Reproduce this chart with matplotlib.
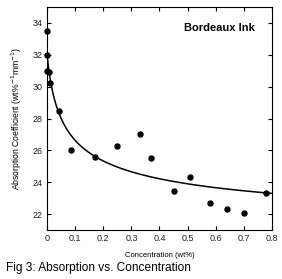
import numpy as np
from matplotlib import pyplot as plt

# measured points (wt%, absorption coefficient)
conc = [0.0, 0.0, 0.0, 0.007, 0.01, 0.043, 0.085, 0.17, 0.25, 0.33, 0.37,
        0.45, 0.51, 0.58, 0.64, 0.70, 0.78]
absorb = [33.47, 32.0, 31.0, 30.9, 30.2, 28.5, 26.0, 25.6, 26.25, 27.0, 25.5,
          23.43, 24.3, 22.7, 22.35, 22.04, 23.3]

# fitted curve y = a + b*(x+c)^-p
fit_a, fit_b, fit_c, fit_p = 20.0, 3.072, 0.025, 0.37

plt.rcParams['font.family'] = ['Liberation Sans', 'DejaVu Sans']

fig = plt.figure(figsize=(2.82, 2.79), dpi=100)
ax = fig.add_axes([0.1667, 0.1756, 0.7978, 0.7993])

xf = np.linspace(0, 0.8, 300)
yf = fit_a + fit_b * (xf + fit_c) ** (-fit_p)
ax.plot(xf, yf, color='black', lw=1.1, zorder=2)
ax.plot(conc, absorb, 'o', color='black', ms=3.6, zorder=3, clip_on=False)

ax.set_xlim(0, 0.8)
ax.set_ylim(21, 35)
ax.set_xticks(np.arange(0, 0.81, 0.1))
ax.set_xticklabels(['0', '0.1', '0.2', '0.3', '0.4', '0.5', '0.6', '0.7', '0.8'])
ax.set_yticks([22, 24, 26, 28, 30, 32, 34])
ax.tick_params(direction='in', top=True, right=True, length=3, width=0.8,
               labelsize=6.5, pad=3, labelcolor='#222222')
for s in ax.spines.values():
    s.set_linewidth(0.8)

ax.set_xlabel('Concentration (wt%)', fontsize=5.5, labelpad=6)
ax.set_ylabel('Absorption Coefficient (wt%$^{-1}$mm$^{-1}$)', fontsize=6.2, labelpad=6)
ax.text(0.612, 33.67, 'Bordeaux Ink', fontsize=8, fontweight='bold',
        ha='center', va='center')

fig.text(6 / 282, 1 - 268 / 279, 'Fig 3: Absorption vs. Concentration',
         fontsize=8.6, ha='left', va='center')

fig.savefig('out.png', dpi=100)
